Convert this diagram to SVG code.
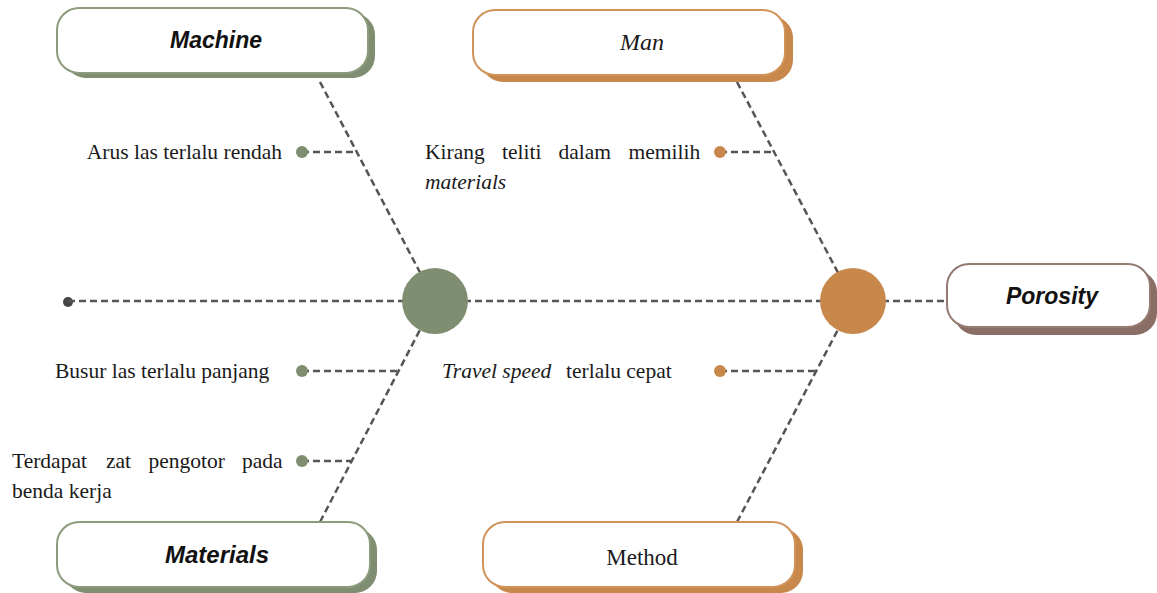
<svg xmlns="http://www.w3.org/2000/svg" width="1157" height="593" viewBox="0 0 1157 593">
  <style>
    .dash { stroke: #555555; stroke-width: 2.5; stroke-dasharray: 7 4; fill: none; }
    .lbl { font-family: "Liberation Serif", "Times New Roman", serif; font-size: 21.5px; fill: #1a1a1a; }
    .it { font-style: italic; }
    .head-sans { font-family: "Liberation Sans", Arial, sans-serif; font-weight: bold; font-style: italic; font-size: 23px; fill: #111111; text-anchor: middle; }
    .head-serif { font-family: "Liberation Serif", "Times New Roman", serif; font-size: 23px; fill: #1a1a1a; text-anchor: middle; }
    .box { fill: #ffffff; stroke-width: 2; }
    .g-shadow { fill: #7f8d70; }
    .g-stroke { stroke: #8c9b7d; }
    .o-shadow { fill: #c8874b; }
    .o-stroke { stroke: #d0935a; }
    .b-shadow { fill: #8a6d64; }
    .b-stroke { stroke: #957a71; }
    .gdot { fill: #7f8d70; }
    .odot { fill: #c8874b; }
  </style>

  <!-- connectors: spine, bones and sub-cause branches -->
  <g id="connectors">
    <circle cx="68" cy="302" r="5" fill="#444444"/>
    <line class="dash" x1="68" y1="301" x2="947" y2="301"/>
    <line class="dash" x1="320" y1="82" x2="435" y2="301"/>
    <line class="dash" x1="320" y1="522" x2="435" y2="301"/>
    <line class="dash" x1="737" y1="82" x2="853" y2="301"/>
    <line class="dash" x1="737" y1="522" x2="853" y2="301"/>
    <line class="dash" x1="302" y1="152" x2="356" y2="152"/>
    <line class="dash" x1="302" y1="371" x2="398" y2="371"/>
    <line class="dash" x1="302" y1="461" x2="352" y2="461"/>
    <line class="dash" x1="720" y1="152" x2="774" y2="152"/>
    <line class="dash" x1="720" y1="371" x2="816" y2="371"/>
  </g>

  <!-- hub circles -->
  <g id="hub-left"><circle cx="435" cy="301" r="33" fill="#7f8d70"/></g>
  <g id="hub-right"><circle cx="853" cy="301" r="33" fill="#c8874b"/></g>

  <!-- category boxes -->
  <g id="machine">
    <rect class="g-shadow" x="64" y="13" width="311" height="65" rx="22"/>
    <rect class="box g-stroke" x="57" y="8" width="311" height="65" rx="22"/>
    <text class="head-sans" x="216" y="48">Machine</text>
  </g>
  <g id="man">
    <rect class="o-shadow" x="481" y="16" width="312" height="66" rx="22"/>
    <rect class="box o-stroke" x="473" y="10" width="312" height="65" rx="22"/>
    <text class="head-serif it" x="642" y="50" style="font-size:24px">Man</text>
  </g>
  <g id="porosity">
    <rect class="b-shadow" x="954" y="270" width="203" height="65" rx="22"/>
    <rect class="box b-stroke" x="947" y="264" width="203" height="63" rx="22"/>
    <text class="head-sans" x="1052" y="304">Porosity</text>
  </g>
  <g id="materials">
    <rect class="g-shadow" x="64" y="528" width="313" height="65" rx="22"/>
    <rect class="box g-stroke" x="57" y="522" width="313" height="65" rx="22"/>
    <text class="head-sans" x="217" y="563" style="font-size:24px">Materials</text>
  </g>
  <g id="method">
    <rect class="o-shadow" x="490" y="528" width="313" height="65" rx="22"/>
    <rect class="box o-stroke" x="483" y="522" width="312" height="65" rx="22"/>
    <text class="head-serif" x="642" y="565">Method</text>
  </g>

  <!-- sub-causes -->
  <g id="cause-arus">
    <circle class="gdot" cx="302" cy="152" r="6"/>
    <text class="lbl" x="282" y="159" text-anchor="end">Arus las terlalu rendah</text>
  </g>
  <g id="cause-kirang">
    <circle class="odot" cx="720" cy="152" r="6"/>
    <text class="lbl" y="159"><tspan x="425">Kirang</tspan><tspan x="502">teliti</tspan><tspan x="558.5">dalam</tspan><tspan x="628.5">memilih</tspan></text>
    <text class="lbl it" x="425" y="189">materials</text>
  </g>
  <g id="cause-busur">
    <circle class="gdot" cx="302" cy="371" r="6"/>
    <text class="lbl" x="55" y="378">Busur las terlalu panjang</text>
  </g>
  <g id="cause-travel">
    <circle class="odot" cx="720" cy="371" r="6"/>
    <text class="lbl" y="378"><tspan class="it" x="442">Travel speed</tspan><tspan x="566">terlalu cepat</tspan></text>
  </g>
  <g id="cause-terdapat">
    <circle class="gdot" cx="302" cy="461" r="6"/>
    <text class="lbl" y="468"><tspan x="12">Terdapat</tspan><tspan x="106">zat</tspan><tspan x="148.5">pengotor</tspan><tspan x="242">pada</tspan></text>
    <text class="lbl" x="12" y="498">benda kerja</text>
  </g>
</svg>
